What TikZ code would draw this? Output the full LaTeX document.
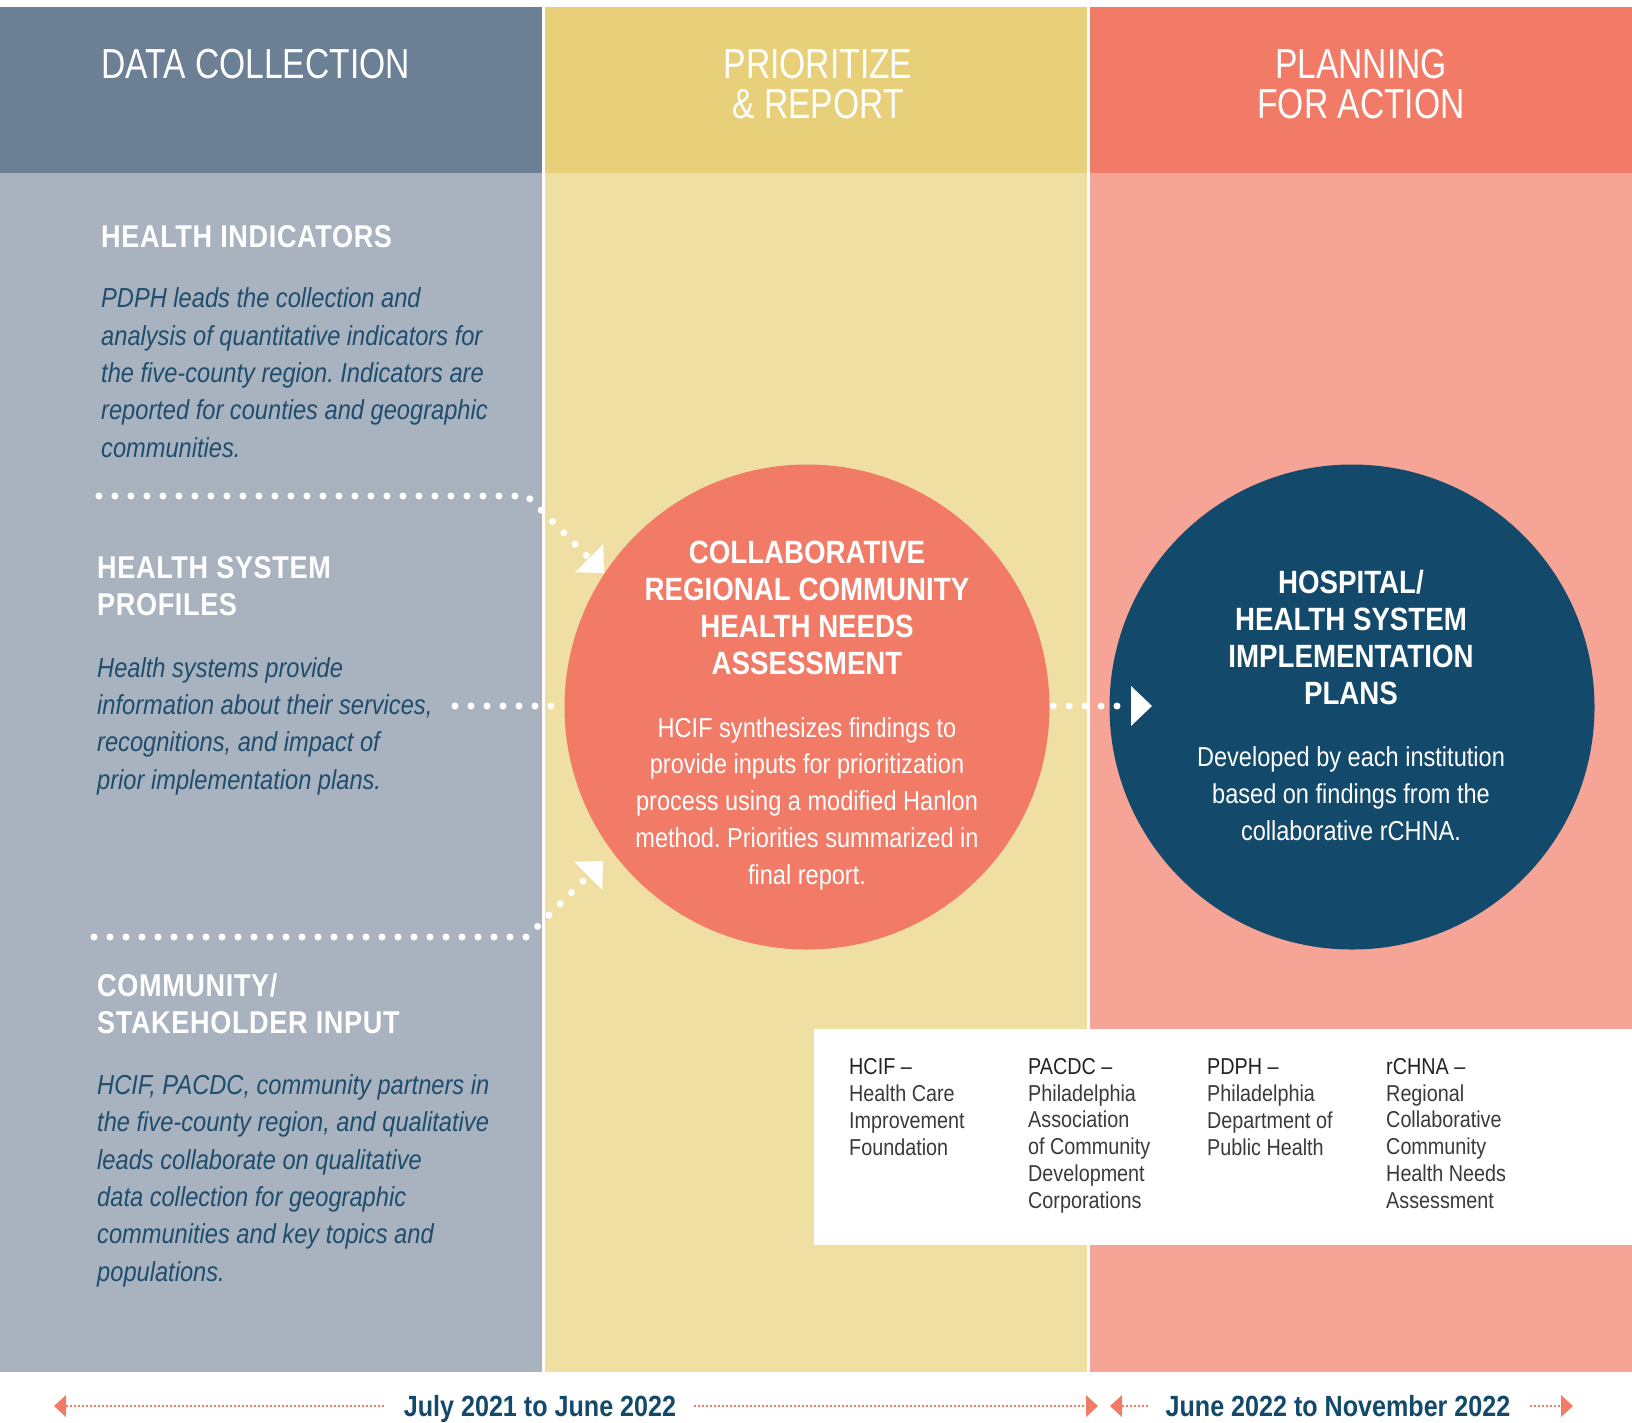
\documentclass[tikz,border=0pt]{standalone}
\usepackage{fontspec}
\setmainfont{Liberation Sans}[FakeStretch=0.86]
\newfontfamily\thinfont{Liberation Sans}[FakeStretch=0.8]
\usetikzlibrary{arrows.meta}
\frenchspacing

\definecolor{slatehd}{HTML}{6B8095}
\definecolor{slatebg}{HTML}{A9B3BF}
\definecolor{sandhd}{HTML}{E8CF79}
\definecolor{sandbg}{HTML}{EFDFA3}
\definecolor{coralhd}{HTML}{F27B68}
\definecolor{coralbg}{HTML}{F5A496}
\definecolor{navy}{HTML}{134A6B}
\definecolor{inktext}{HTML}{1E4D6E}
\definecolor{legendhd}{HTML}{222222}
\definecolor{legendtx}{HTML}{3A3A3A}

% multi-line nodes sit on the baseline of their last line
\tikzset{
  colhead/.style={text=white, font=\thinfont\fontsize{42}{40}\selectfont, align=center, anchor=base, inner sep=0pt},
  sechead/.style={text=white, font=\bfseries\fontsize{31.5}{37}\selectfont\addfontfeature{LetterSpace=2}, align=left, anchor=base west, inner sep=0pt},
  secbody/.style={text=inktext, font=\itshape\fontsize{27.5}{37.3}\selectfont, align=left, anchor=base west, inner sep=0pt},
  cirhead/.style={text=white, font=\bfseries\fontsize{32.2}{37}\selectfont, align=center, anchor=base, inner sep=0pt},
  cirbody/.style={text=white, font=\fontsize{27.4}{36.7}\selectfont, align=center, anchor=base, inner sep=0pt},
  legend/.style={text=legendtx, font=\fontsize{23}{26.7}\selectfont, align=left, anchor=base west, inner sep=0pt},
  dotline/.style={white, line width=7pt, line cap=round, dash pattern=on 0pt off 16pt},
  bigtip/.style={-{Triangle[length=21pt, width=40pt, line width=0pt]}},
  tline/.style={coralhd, line width=2pt, dash pattern=on 1.5pt off 2.5pt,
    {Triangle[length=12pt, width=22pt, line width=0pt]}-{Triangle[length=12pt, width=22pt, line width=0pt]}},
  span/.style={text=navy, font=\bfseries\fontsize{29.2}{30}\selectfont, fill=white, inner xsep=18pt, inner ysep=4pt, anchor=base}
}

\begin{document}
\begin{tikzpicture}[x=1pt, y=-1pt]
\useasboundingbox (0,0) rectangle (1632,1422);

% three columns
\foreach \xa/\xb/\hd/\bg in {0/542/slatehd/slatebg, 545/1087/sandhd/sandbg, 1090/1632/coralhd/coralbg} {
  \fill[\bg] (\xa,173) rectangle (\xb,1372);
  \fill[\hd] (\xa,7) rectangle (\xb,173);}

\node[colhead, anchor=base west, align=left] (hdata) at (101,78) {DATA COLLECTION};
\node[colhead] (hprio) at (818,118) {PRIORITIZE\\\& REPORT};
\node[colhead] (hplan) at (1361,118) {PLANNING\\FOR ACTION};

\node[sechead] (indic) at (101,247) {HEALTH INDICATORS};
\node[secbody] (indictx) at (101,457) {PDPH leads the collection and\\analysis of quantitative indicators for\\the five-county region. Indicators are\\reported for counties and geographic\\communities.};

\node[sechead] (prof) at (97,615) {HEALTH SYSTEM\\PROFILES};
\node[secbody] (proftx) at (97,789) {Health systems provide\\information about their services,\\recognitions, and impact of\\prior implementation plans.};

\node[sechead] (input) at (97,1033) {COMMUNITY/\\STAKEHOLDER INPUT};
\node[secbody] (inputtx) at (97,1281) {HCIF, PACDC, community partners in\\the five-county region, and qualitative\\leads collaborate on qualitative\\data collection for geographic\\communities and key topics and\\populations.};

\node[circle, fill=coralhd, minimum size=485pt, inner sep=0pt] (crna) at (807,707) {};
\node[circle, fill=navy, minimum size=485pt, inner sep=0pt] (plans) at (1352,707) {};

\node[cirhead] (crnahd) at (807,674) {COLLABORATIVE\\REGIONAL COMMUNITY\\HEALTH NEEDS\\ASSESSMENT};
\node[cirbody] (crnatx) at (807,884) {HCIF synthesizes findings to\\provide inputs for prioritization\\process using a modified Hanlon\\method. Priorities summarized in\\final report.};
\node[cirhead] (planshd) at (1351,704) {HOSPITAL/\\HEALTH SYSTEM\\IMPLEMENTATION\\PLANS};
\node[cirbody] (planstx) at (1351,840) {Developed by each institution\\based on findings from the\\collaborative rCHNA.};

% dotted feeds
\coordinate (hi0) at (99,496);  \coordinate (hi1) at (527,496);  \coordinate (hi2) at (604,573);
\coordinate (hs0) at (455,706); \coordinate (hs1) at (553,706);
\coordinate (ci0) at (94,937);  \coordinate (ci1) at (527,937);  \coordinate (ci2) at (603,861);
\coordinate (pl0) at (1053,706); \coordinate (pl1) at (1152,706);
\draw[dotline, bigtip] (hi0) -- (hi1) -- (hi2);
\draw[dotline] (hs0) -- (hs1);
\draw[dotline, bigtip] (ci0) -- (ci1) -- (ci2);
\draw[dotline, bigtip] (pl0) -- (pl1);

% legend
\node[fill=white, minimum width=818pt, minimum height=216pt, inner sep=0pt, anchor=north west] (legbox) at (814,1029) {};
\node[legend] (lhcif) at (849,1155) {\textcolor{legendhd}{HCIF --}\\Health Care\\Improvement\\Foundation};
\node[legend] (lpacdc) at (1028,1208) {\textcolor{legendhd}{PACDC --}\\Philadelphia\\Association\\of Community\\Development\\Corporations};
\node[legend] (lpdph) at (1207,1155) {\textcolor{legendhd}{PDPH --}\\Philadelphia\\Department of\\Public Health};
\node[legend] (lrchna) at (1386,1208) {\textcolor{legendhd}{rCHNA --}\\Regional\\Collaborative\\Community\\Health Needs\\Assessment};

% time spans
\coordinate (ta) at (54,1406);   \coordinate (tb) at (1098,1406);
\coordinate (tc) at (1110,1406); \coordinate (td) at (1573,1406);
\draw[tline] (ta) -- (tb);
\draw[tline] (tc) -- (td);
\node[span] (span1) at (540,1416) {July 2021 to June 2022};
\node[span] (span2) at (1338,1416) {June 2022 to November 2022};
\end{tikzpicture}
\end{document}
